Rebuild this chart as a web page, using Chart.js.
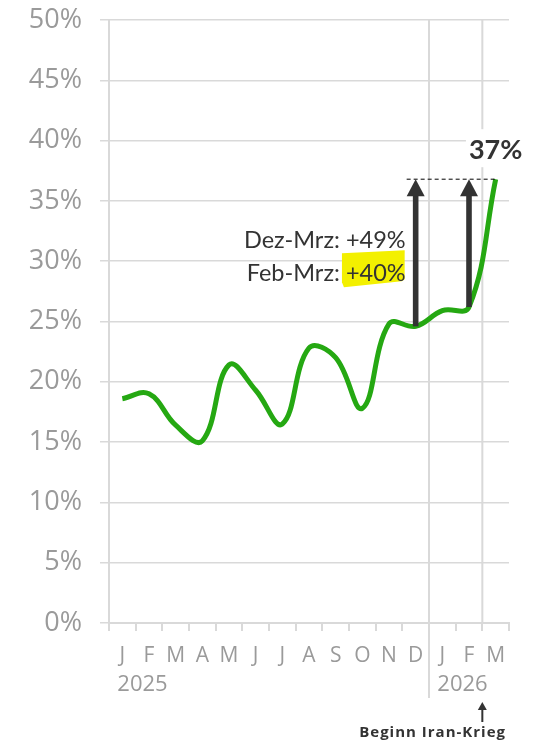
<!DOCTYPE html>
<html>
<head>
<meta charset="utf-8">
<script src="https://cdn.jsdelivr.net/npm/chart.js@4.4.1/dist/chart.umd.min.js"></script>
<style>
  html, body { margin: 0; padding: 0; background: #fff; }
  #wrap { width: 548px; height: 745px; }
</style>
</head>
<body>
<div id="wrap"><canvas id="mychart" width="548" height="745"></canvas></div>
<script>
// months Jan 2025 - Mar 2026
var months = ['J','F','M','A','M','J','J','A','S','O','N','D','J','F','M']
var years = ['2025','','','','','','','','','','','','2026','','']
// share in percent
var share = [18.6, 19.0, 16.4, 15.1, 21.4, 19.3, 16.5, 22.8, 22.0, 17.8, 24.8, 24.6, 25.9, 26.2, 36.8]
var yTicks = [0, 5, 10, 15, 20, 25, 30, 35, 40, 45, 50]

var notes = ['Dez-Mrz: +49%', 'Feb-Mrz: +40%']
var arrowFrom = [11, 13]   // D 2025 and F 2026 -> M 2026
var endLabel = '37%'
var eventLabel = 'Beginn Iran-Krieg'

var grey = '#d9d9d9'
var dark = '#333333'
var green = '#25a812'
var tickGrey = '#9a9a9a'

function boundary(x, i) {
  return (x.getPixelForValue(i) + x.getPixelForValue(i + 1)) / 2
}

var extras = {
  id: 'extras',
  beforeDatasetsDraw: function(chart) {
    var ctx = chart.ctx, a = chart.chartArea, x = chart.scales.x
    ctx.save()
    ctx.strokeStyle = grey
    ctx.lineWidth = 2
    // year separator, runs down through the labels
    var b1 = boundary(x, 11)
    ctx.beginPath(); ctx.moveTo(b1, a.top); ctx.lineTo(b1, a.bottom + 75); ctx.stroke()
    // start of war, F/M
    var b2 = boundary(x, 13)
    ctx.beginPath(); ctx.moveTo(b2, a.top); ctx.lineTo(b2, a.bottom); ctx.stroke()

    // year labels
    ctx.fillStyle = tickGrey
    ctx.font = '22px "Open Sans"'
    ctx.textAlign = 'left'
    ctx.textBaseline = 'middle'
    years.forEach(function(t, i) {
      if (t) ctx.fillText(t, x.getPixelForValue(i) - 5, a.bottom + 62)
    })

    // event note below the axis
    ctx.fillStyle = dark
    ctx.strokeStyle = dark
    ctx.lineWidth = 2
    ctx.beginPath(); ctx.moveTo(b2, a.bottom + 99); ctx.lineTo(b2, a.bottom + 85); ctx.stroke()
    ctx.beginPath()
    ctx.moveTo(b2, a.bottom + 79); ctx.lineTo(b2 - 4.5, a.bottom + 87); ctx.lineTo(b2 + 4.5, a.bottom + 87)
    ctx.closePath(); ctx.fill()
    ctx.font = 'bold 15px "Open Sans"'
    ctx.letterSpacing = '1px'
    ctx.textAlign = 'right'
    ctx.fillText(eventLabel, a.right - 3, a.bottom + 110)
    ctx.letterSpacing = '0px'
    ctx.restore()
  },
  afterDatasetsDraw: function(chart) {
    var ctx = chart.ctx, a = chart.chartArea, x = chart.scales.x, y = chart.scales.y
    var last = share.length - 1
    var topY = y.getPixelForValue(share[last])
    ctx.save()

    // dashed reference at the last value
    ctx.strokeStyle = '#000'
    ctx.lineWidth = 1
    ctx.setLineDash([4, 3])
    ctx.beginPath()
    ctx.moveTo(x.getPixelForValue(arrowFrom[0]) - 9, topY)
    ctx.lineTo(x.getPixelForValue(last), topY)
    ctx.stroke()
    ctx.setLineDash([])

    // arrows
    ctx.fillStyle = dark
    arrowFrom.forEach(function(i) {
      var px = x.getPixelForValue(i)
      var py = y.getPixelForValue(share[i])
      ctx.fillRect(px - 2.8, topY + 16, 5.6, py - topY - 16)
      ctx.beginPath()
      ctx.moveTo(px, topY); ctx.lineTo(px - 9, topY + 17); ctx.lineTo(px + 9, topY + 17)
      ctx.closePath(); ctx.fill()
    })

    // notes left of the first arrow
    var right = x.getPixelForValue(arrowFrom[0]) - 10
    ctx.font = '23.5px Lato'
    ctx.textAlign = 'right'
    ctx.textBaseline = 'middle'
    var y1 = y.getPixelForValue(31.7), y2 = y.getPixelForValue(29.0)
    // highlighter behind +40%
    var hw = ctx.measureText('+40%').width
    ctx.fillStyle = '#f3f000'
    ctx.beginPath()
    ctx.moveTo(right - hw - 4, y2 - 20)
    ctx.lineTo(right - 1, y2 - 23)
    ctx.lineTo(right - 1, y2 + 6)
    ctx.lineTo(right - 4, y2 + 8)
    ctx.lineTo(right - hw - 2, y2 + 14)
    ctx.lineTo(right - hw - 4, y2 + 9)
    ctx.closePath(); ctx.fill()
    ctx.fillStyle = dark
    ctx.fillText(notes[0], right, y1)
    ctx.fillText(notes[1], right, y2)

    // end value label on white
    ctx.font = 'bold 27px Lato'
    ctx.textAlign = 'center'
    var lx = x.getPixelForValue(last), ly = topY - 29
    var lw = ctx.measureText(endLabel).width
    ctx.fillStyle = '#fff'
    ctx.fillRect(lx - lw / 2 - 3, ly - 21, lw + 6, 38)
    ctx.fillStyle = dark
    ctx.fillText(endLabel, lx, ly)
    ctx.restore()
  }
}

var mychart = document.getElementById('mychart').getContext('2d')
var chart = new Chart(mychart, {
  type: 'line',
  data: {
    labels: months,
    datasets: [{
      data: share,
      borderColor: green,
      borderWidth: 5,
      tension: 0.4,
      pointRadius: 0,
      fill: false,
      clip: false
    }]
  },
  options: {
    responsive: false,
    animation: false,
    events: [],
    layout: { padding: { top: 20, right: 39, left: 0, bottom: 0 } },
    plugins: { legend: { display: false }, tooltip: { enabled: false } },
    scales: {
      x: {
        type: 'category',
        offset: true,
        grid: { offset: true, drawOnChartArea: false, drawTicks: true, tickLength: 8, color: grey, lineWidth: 2 },
        border: { display: true, color: grey, width: 2 },
        ticks: { color: tickGrey, font: { family: 'Open Sans', size: 21 }, padding: 12, maxRotation: 0, autoSkip: false },
        afterFit: function(s) { s.height = 122; s.paddingLeft = 0; s.paddingRight = 0 }
      },
      y: {
        min: 0,
        max: 50,
        afterBuildTicks: function(s) { s.ticks = yTicks.map(function(v) { return { value: v } }) },
        grid: { color: grey, lineWidth: 1.5, tickLength: 9, drawTicks: true },
        border: { display: true, color: grey, width: 2 },
        ticks: {
          color: tickGrey,
          font: { family: 'Open Sans', size: 27 },
          padding: 18,
          callback: function(v) { return v + '%' }
        },
        afterFit: function(s) { s.width = 109; s.paddingTop = 0; s.paddingBottom = 0 }
      }
    }
  },
  plugins: [extras]
})
</script>
</body>
</html>
